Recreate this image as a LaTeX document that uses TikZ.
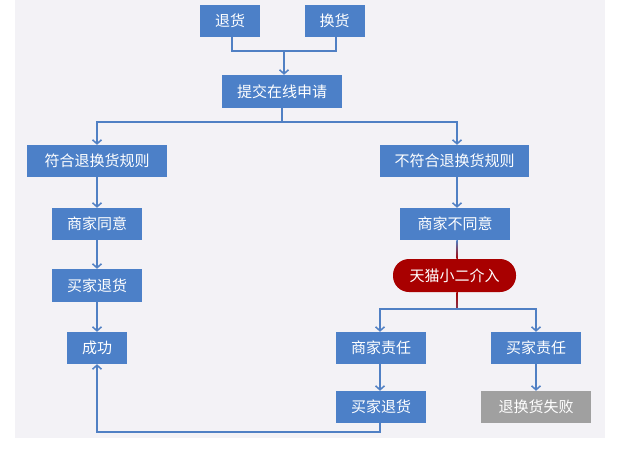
\documentclass[tikz,border=0pt]{standalone}
\usepackage{fontspec}
\setmainfont{Noto Sans CJK SC}
\usetikzlibrary{arrows.meta,calc}
\definecolor{panel}{RGB}{243,242,246}
\definecolor{bblue}{RGB}{76,128,200}
\definecolor{lblue}{RGB}{80,128,196}
\definecolor{dred}{RGB}{168,0,0}
\definecolor{fgray}{RGB}{160,160,160}
\tikzset{
  box/.style={fill=bblue, text=white, inner sep=0pt, minimum height=32pt, font=\fontsize{15pt}{18pt}\selectfont},
  graybox/.style={box, fill=fgray},
  pill/.style={box, fill=dred, rounded corners=16pt},
  conn/.style={draw=lblue, line width=1.5pt},
  arr/.style={conn, -{Straight Barb[length=4pt,width=9pt,line width=1.5pt]}},
}
\begin{document}
\begin{tikzpicture}[x=1pt,y=-1pt]
\useasboundingbox (0,0) rectangle (620,451);
\fill[panel] (15,0) rectangle (605,438);
% nodes
\node[box, minimum width=60pt] (tui) at (230,20.5) {退货};
\node[box, minimum width=60pt] (huan) at (334.5,20.5) {换货};
\node[box, minimum width=120pt, minimum height=33pt] (tijiao) at (282,91.5) {提交在线申请};
\node[box, minimum width=140pt] (fuhe) at (97,161) {符合退换货规则};
\node[box, minimum width=149pt] (bufuhe) at (454.5,161) {不符合退换货规则};
\node[box, minimum width=90pt] (tongyi) at (97,224) {商家同意};
\node[box, minimum width=110pt] (butongyi) at (455,224) {商家不同意};
\node[box, minimum width=90pt, minimum height=33pt] (tuihuoL) at (97,285.5) {买家退货};
\node[pill, minimum width=123pt, minimum height=33pt] (tianmao) at (454.5,275.5) {天猫小二介入};
\node[box, minimum width=60pt] (chenggong) at (97,348) {成功};
\node[box, minimum width=90pt] (shangjia) at (381,348) {商家责任};
\node[box, minimum width=90pt] (maijia) at (536,348) {买家责任};
\node[box, minimum width=90pt] (tuihuoR) at (381,407) {买家退货};
\node[graybox, minimum width=110pt] (shibai) at (536,407) {退换货失败};
% coordinates
\coordinate (j1) at (284,51);
\coordinate (j2) at (282,122);
\coordinate (j3) at (457,309);
\coordinate (j4) at (380,432);
% connectors
\draw[conn] (tui.south -| 232,0) |- (j1) -| (huan.south -| 336,0);
\draw[arr] (j1) -- (j1 |- tijiao.north);
\draw[conn] (tijiao.south) -- (j2);
\draw[arr] (j2) -| (fuhe.north);
\draw[arr] (j2) -| (bufuhe.north -| 457,0);
\draw[arr] (fuhe.south) -- (tongyi.north);
\draw[arr] (tongyi.south) -- (tuihuoL.north);
\draw[arr] (tuihuoL.south) -- (chenggong.north);
\draw[arr] (bufuhe.south -| 457,0) -- (butongyi.north -| 457,0);
\shade[top color=lblue, bottom color=dred] ($(butongyi.south -| 457,0)+(-0.75,0)$) rectangle ($(tianmao.north -| 457,0)+(0.75,0)$);
\shade[top color=dred, bottom color=dred!60!lblue] ($(tianmao.south -| 457,0)+(-0.75,0)$) rectangle ($(j3)+(0.75,0)$);
\draw[arr] (j3) -| (shangjia.north -| 380,0);
\draw[arr] (j3) -| (maijia.north);
\draw[arr] (shangjia.south -| 380,0) -- (tuihuoR.north -| 380,0);
\draw[arr] (maijia.south) -- (shibai.north);
\draw[arr] (tuihuoR.south -| 380,0) -- (j4) -| (chenggong.south);
\end{tikzpicture}
\end{document}
